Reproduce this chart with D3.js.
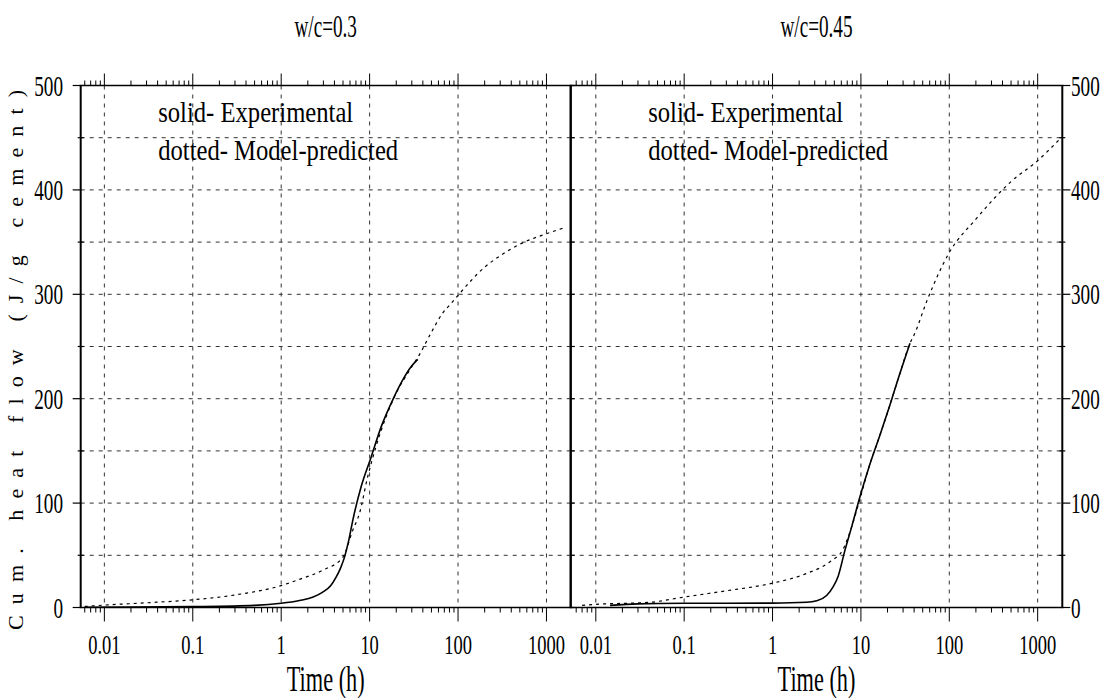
<!DOCTYPE html>
<html><head><meta charset="utf-8">
<script src="https://cdn.jsdelivr.net/npm/d3@7"></script>
<style>body{margin:0;background:#fff}</style>
</head><body>
<svg id="chart" width="1112" height="698"></svg>
<script>
// ---- data ----
const xTicks = [0.01, 0.1, 1, 10, 100, 1000];
const xTickLabels = ["0.01", "0.1", "1", "10", "100", "1000"];
const yTicks = [0, 100, 200, 300, 400, 500];
const yTickLabels = ["0", "100", "200", "300", "400", "500"];
const panelTitles = ["w/c=0.3", "w/c=0.45"];
const legendLines = ["solid- Experimental", "dotted- Model-predicted"];
const xTitle = "Time (h)";
const yTitle = "Cum. heat flow (J/g cement)";

// w/c = 0.3, measured
const exp03Time = [0.006, 0.02, 0.1, 0.5, 1, 1.61, 2.3, 2.95, 3.6, 4.18, 4.7, 5.19, 5.8, 6.45, 8, 10.4, 13.5, 18.2, 23.7, 29.4, 35];
const exp03Heat = [0.3, 0.4, 0.8, 2, 4, 6.7, 10, 14.7, 20.5, 29, 38, 48, 64, 83.5, 115.5, 144, 173, 198.7, 218, 230.6, 237.7];
// w/c = 0.3, model
const mod03Time = [0.006, 0.01, 0.03, 0.1, 0.3, 1, 1.61, 3, 4.97, 6.45, 7.67, 9.5, 11.8, 15.4, 19.9, 28.2, 36.5, 49.5, 67, 83, 100, 200, 300, 500, 1000, 1630];
const mod03Heat = [1, 2.3, 4.5, 7.4, 12, 21, 27, 36, 48, 74, 90, 125, 154, 183, 205, 227, 242, 263, 282, 291, 299, 326, 337, 348, 358, 364];

// w/c = 0.45, measured
const exp045Time = [0.0145, 0.03, 0.1, 1, 2.43, 3.15, 4.09, 4.86, 5.53, 6.59, 7.84, 9.75, 12.6, 16.4, 21.3, 26.4, 35.9];
const exp045Heat = [2, 3.5, 4, 4.2, 5, 6.5, 11.5, 20, 30, 54.7, 77, 106, 137, 165, 194, 219, 253];
// w/c = 0.45, model
const mod045Time = [0.007, 0.01, 0.041, 0.1, 0.3, 1, 2.43, 4.5, 6.3, 7.84, 9.75, 12.6, 16.4, 21.3, 26.4, 35.9, 40.9, 55.4, 100, 200, 500, 1000, 1750];
const mod045Heat = [2, 3, 5, 10, 16, 23.3, 32.6, 44, 56, 77, 104, 137, 165, 194, 219, 253, 263, 293, 340, 372, 408, 428, 448];

// ---- layout ----
const svg = d3.select("#chart");
const yTop = 85.5, yBot = 607.5;
const y = d3.scaleLinear().domain([0, 500]).range([yBot, yTop]);

const panels = [
  { x0: 80.7, x1: 570.7, domain: [0.0054, 1880], title: panelTitles[0],
    exp: [exp03Time, exp03Heat], mod: [mod03Time, mod03Heat], labelSide: "left" },
  { x0: 570.7, x1: 1062.3, domain: [0.0052, 1900], title: panelTitles[1],
    exp: [exp045Time, exp045Heat], mod: [mod045Time, mod045Heat], labelSide: "right" }
];

// narrow, tall lettering
function label(sel, x, yy, s, opts = {}) {
  const size = opts.size || 29, sx = opts.sx || 0.66, anchor = opts.anchor || "middle";
  return sel.append("text")
    .attr("transform", `translate(${x},${yy}) scale(${sx},1)`)
    .attr("text-anchor", anchor)
    .attr("font-family", "Liberation Serif")
    .attr("font-size", size)
    .attr("fill", "#000")
    .text(s);
}

const line = d3.line().curve(d3.curveMonotoneX);

panels.forEach((p, i) => {
  const x = d3.scaleLog().domain(p.domain).range([p.x0, p.x1]);
  const g = svg.append("g");

  // grid
  g.selectAll(".vgrid").data(xTicks).join("line")
    .attr("x1", d => x(d)).attr("x2", d => x(d))
    .attr("y1", yTop).attr("y2", yBot)
    .attr("stroke", "#333").attr("stroke-width", 1).attr("stroke-dasharray", "4,5");
  g.selectAll(".hgrid").data(d3.range(50, 500, 50)).join("line")
    .attr("x1", p.x0).attr("x2", p.x1)
    .attr("y1", d => y(d)).attr("y2", d => y(d))
    .attr("stroke", "#333").attr("stroke-width", 1).attr("stroke-dasharray", "4,5");

  // minor log ticks on top and bottom
  const minor = [];
  for (let e = -3; e <= 3; e++) for (let k = 2; k <= 9; k++) {
    const t = k * Math.pow(10, e);
    if (t >= p.domain[0] && t <= p.domain[1]) minor.push(t);
  }
  g.selectAll(".mt").data(minor).join("line")
    .attr("x1", d => x(d)).attr("x2", d => x(d))
    .attr("y1", yTop).attr("y2", yTop - 5).attr("stroke", "#000");
  g.selectAll(".mb").data(minor).join("line")
    .attr("x1", d => x(d)).attr("x2", d => x(d))
    .attr("y1", yBot).attr("y2", yBot + 5).attr("stroke", "#000");
  g.selectAll(".Mt").data(xTicks).join("line")
    .attr("x1", d => x(d)).attr("x2", d => x(d))
    .attr("y1", yTop).attr("y2", yTop - 12).attr("stroke", "#000");
  g.selectAll(".Mb").data(xTicks).join("line")
    .attr("x1", d => x(d)).attr("x2", d => x(d))
    .attr("y1", yBot).attr("y2", yBot + 14).attr("stroke", "#000");

  // y ticks
  const ys = d3.range(0, 501, 50);
  if (p.labelSide === "left") {
    g.selectAll(".yt").data(ys).join("line")
      .attr("x1", d => d % 100 === 0 ? p.x0 - 8 : p.x0 - 3).attr("x2", d => d % 100 === 0 ? p.x0 : p.x0 + 3)
      .attr("y1", d => y(d)).attr("y2", d => y(d)).attr("stroke", "#000").attr("stroke-width", 1.2);
  } else {
    g.selectAll(".yt").data(ys).join("line")
      .attr("x1", d => d % 100 === 0 ? p.x1 : p.x1 - 3).attr("x2", d => d % 100 === 0 ? p.x1 + 8 : p.x1 + 3)
      .attr("y1", d => y(d)).attr("y2", d => y(d)).attr("stroke", "#000").attr("stroke-width", 1.2);
    // ticks along the shared divider
    g.selectAll(".yd").data(ys).join("line")
      .attr("x1", p.x0).attr("x2", p.x0 + 4)
      .attr("y1", d => y(d)).attr("y2", d => y(d)).attr("stroke", "#000").attr("stroke-width", 1.2);
  }

  // frame
  g.append("line").attr("x1", p.x0 - 1).attr("x2", p.x1 + 1).attr("y1", yTop).attr("y2", yTop)
    .attr("stroke", "#000").attr("stroke-width", 1.5);
  g.append("line").attr("x1", p.x0 - 1).attr("x2", p.x1 + 1).attr("y1", yBot).attr("y2", yBot)
    .attr("stroke", "#000").attr("stroke-width", 1.5);
  g.append("line").attr("x1", p.x0).attr("x2", p.x0).attr("y1", yTop).attr("y2", yBot)
    .attr("stroke", "#000").attr("stroke-width", 2);
  g.append("line").attr("x1", p.x1).attr("x2", p.x1).attr("y1", yTop).attr("y2", yBot)
    .attr("stroke", "#000").attr("stroke-width", 2);

  // curves
  const expPts = p.exp[0].map((t, j) => [x(t), y(p.exp[1][j])]);
  const modPts = p.mod[0].map((t, j) => [x(t), y(p.mod[1][j])]);
  g.append("path").attr("d", line(modPts)).attr("fill", "none")
    .attr("stroke", "#000").attr("stroke-width", 1.2).attr("stroke-dasharray", "3,4");
  g.append("path").attr("d", line(expPts)).attr("fill", "none")
    .attr("stroke", "#000").attr("stroke-width", 1.6);

  // x tick labels
  xTicks.forEach((t, j) => label(g, x(t), 654, xTickLabels[j], { size: 28, sx: 0.66 }));
  // y tick labels
  yTicks.forEach((v, j) => {
    if (p.labelSide === "left") label(g, 63, y(v) + 10, yTickLabels[j], { anchor: "end", size: 30, sx: 0.64 });
    else label(g, 1071, y(v) + 10, yTickLabels[j], { anchor: "start", size: 30, sx: 0.64 });
  });

  // titles
  const cx = (p.x0 + p.x1) / 2;
  label(g, cx, 37, p.title, { size: 32, sx: 0.6 });
  label(g, cx, 691, xTitle, { size: 36, sx: 0.62 });

  // legend
  const lw = [195, 240];
  legendLines.forEach((s, j) => {
    g.append("text").attr("x", p.x0 + 77.5).attr("y", 122 + j * 38)
      .attr("font-family", "Liberation Serif").attr("font-size", 30)
      .attr("textLength", lw[j]).attr("lengthAdjust", "spacingAndGlyphs")
      .text(s);
  });
});

// y axis title
svg.append("text")
  .attr("transform", "translate(23,360) rotate(-90)")
  .attr("text-anchor", "middle")
  .attr("font-family", "Liberation Serif").attr("font-size", 22)
  .attr("textLength", 540).attr("lengthAdjust", "spacing")
  .text(yTitle);
</script>
</body></html>
